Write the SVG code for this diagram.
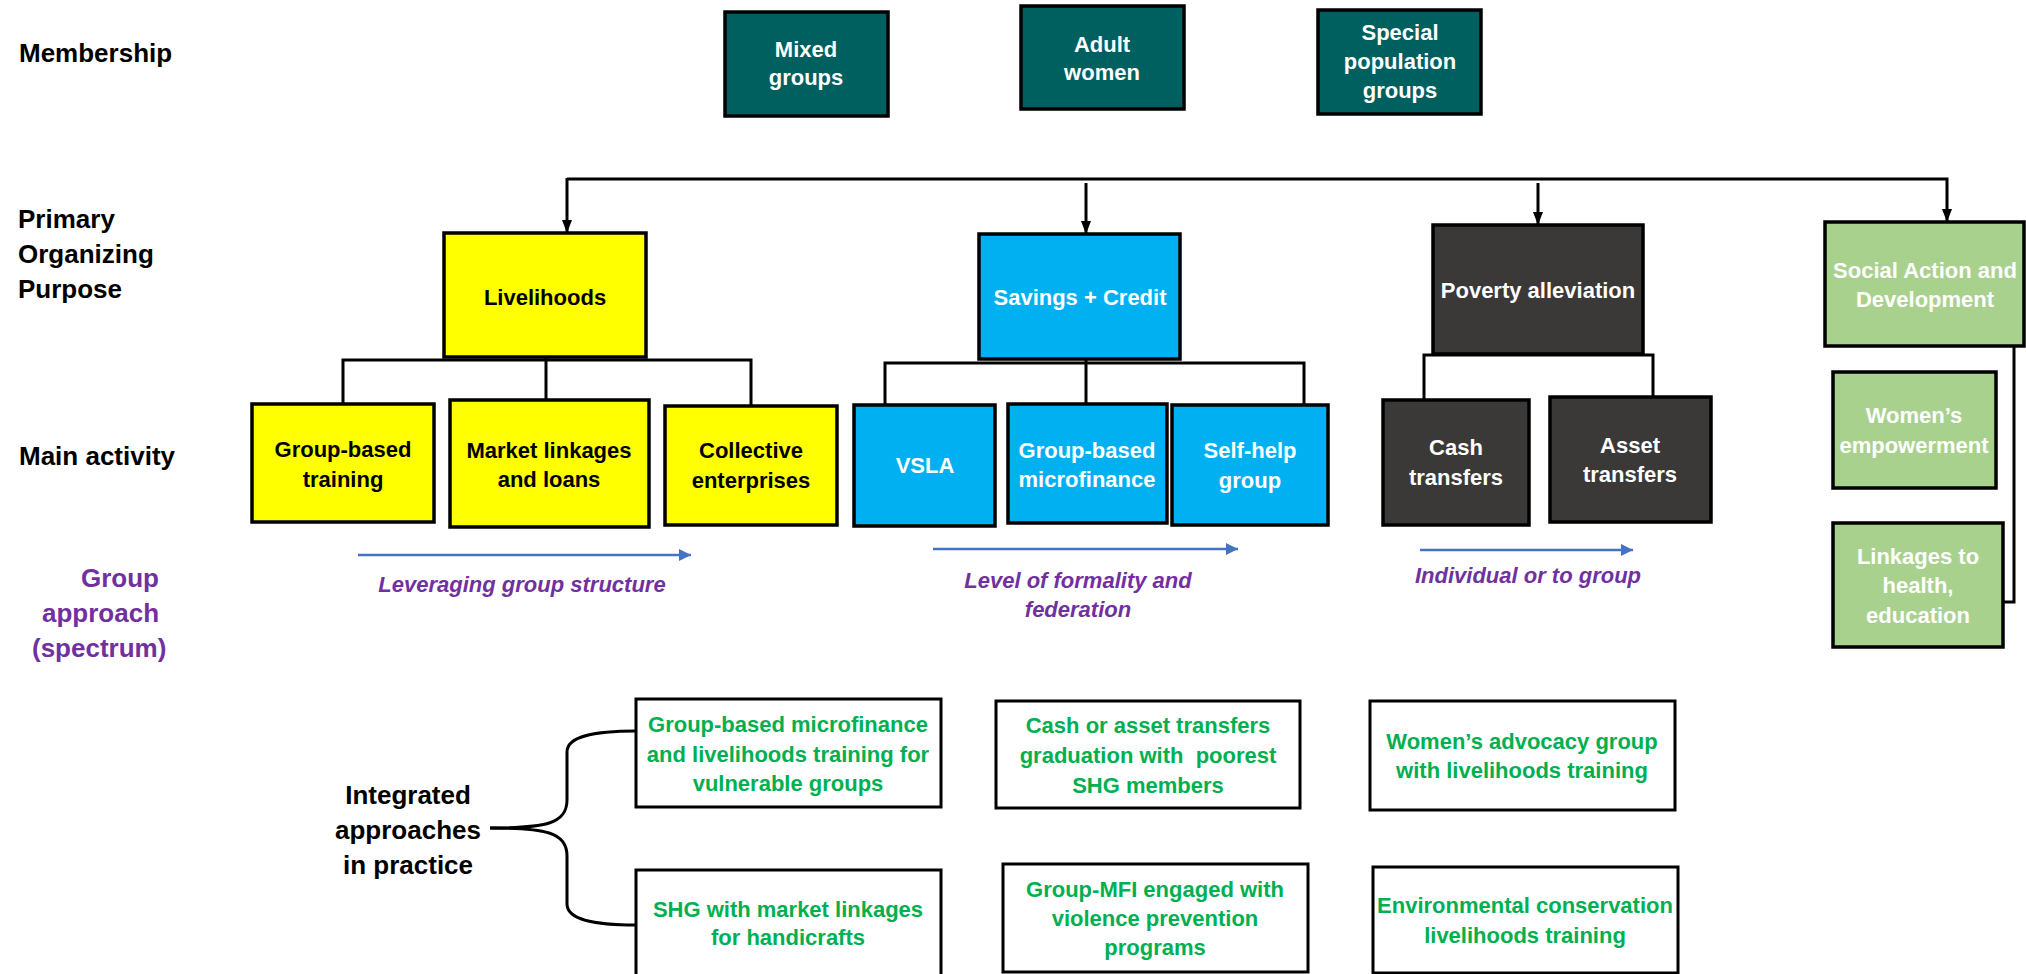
<svg xmlns="http://www.w3.org/2000/svg" width="2026" height="974" viewBox="0 0 2026 974">
<defs>
<style>
text{font-family:"Liberation Sans",Arial,sans-serif;font-weight:bold}
.lbl{font-size:26px;fill:#000}
.pur{font-size:26px;fill:#7030A0}
.it{font-size:22px;fill:#7030A0;font-style:italic;text-anchor:middle}
.bt{font-size:22px;text-anchor:middle}
.w{fill:#fff}
.k{fill:#000}
.g{fill:#00B050}
.teal{fill:#005F5F;stroke:#000;stroke-width:3.5}
.yel{fill:#FFFF00;stroke:#000;stroke-width:3.5}
.blu{fill:#00B0F0;stroke:#000;stroke-width:3.5}
.drk{fill:#3B3838;stroke:#000;stroke-width:3.5}
.grn{fill:#A9D18E;stroke:#000;stroke-width:3.5}
.wb{fill:#fff;stroke:#000;stroke-width:3}
.con{fill:none;stroke:#000;stroke-width:3}
.spec{fill:none;stroke:#4472C4;stroke-width:2.5}
</style>
<marker id="ah" viewBox="0 0 13 10" refX="13" refY="5" markerWidth="4.33" markerHeight="3.33" markerUnits="strokeWidth" orient="auto">
<path d="M0,0 L13,5 L0,10 z" fill="#000"/>
</marker>
<marker id="bh" viewBox="0 0 10 10" refX="10" refY="5" markerWidth="5" markerHeight="5" markerUnits="strokeWidth" orient="auto">
<path d="M0,0 L10,5 L0,10 z" fill="#4472C4"/>
</marker>
</defs>

<g id="row-labels">
<text class="lbl" x="19" y="62">Membership</text>
<text class="lbl" x="18" y="228">Primary</text>
<text class="lbl" x="18" y="263">Organizing</text>
<text class="lbl" x="18" y="298">Purpose</text>
<text class="lbl" x="19" y="465">Main activity</text>
<text class="pur" x="81" y="587">Group</text>
<text class="pur" x="42" y="622">approach</text>
<text class="pur" x="32" y="657">(spectrum)</text>
</g>

<g id="connectors">
<polyline class="con" points="567,179 1947,179 1947,222" marker-end="url(#ah)"/>
<line class="con" x1="567" y1="178" x2="567" y2="233" marker-end="url(#ah)"/>
<line class="con" x1="1086" y1="183" x2="1086" y2="234" marker-end="url(#ah)"/>
<line class="con" x1="1538" y1="183" x2="1538" y2="225" marker-end="url(#ah)"/>
<polyline class="con" points="546,357 546,400"/>
<polyline class="con" points="343,404 343,360 751,360 751,406"/>
<polyline class="con" points="1086,359 1086,404"/>
<polyline class="con" points="885,405 885,363 1304,363 1304,405"/>
<polyline class="con" points="1424,400 1424,355 1653,355 1653,397"/>
<polyline class="con" points="2014,343 2014,602 2003,602"/>
<line class="spec" x1="358" y1="555" x2="691" y2="555" marker-end="url(#bh)"/>
<line class="spec" x1="933" y1="549" x2="1238" y2="549" marker-end="url(#bh)"/>
<line class="spec" x1="1420" y1="550" x2="1633" y2="550" marker-end="url(#bh)"/>
<path class="con" d="M490,828 C545,828 567,824 567,800 L567,752 C567,736 595,731 636,731"/>
<path class="con" d="M490,828 C545,828 567,832 567,856 L567,904 C567,920 595,925 636,925"/>
</g>

<g id="mixed-groups"><rect class="teal" x="725" y="12" width="163" height="104"/>
<text class="bt w" x="806" y="57">Mixed</text><text class="bt w" x="806" y="85">groups</text></g>
<g id="adult-women"><rect class="teal" x="1021" y="6" width="163" height="103"/>
<text class="bt w" x="1102" y="52">Adult</text><text class="bt w" x="1102" y="80">women</text></g>
<g id="special-population"><rect class="teal" x="1318" y="10" width="163" height="104"/>
<text class="bt w" x="1400" y="40">Special</text><text class="bt w" x="1400" y="69">population</text><text class="bt w" x="1400" y="98">groups</text></g>

<g id="livelihoods"><rect class="yel" x="444" y="233" width="202" height="124"/>
<text class="bt k" x="545" y="305">Livelihoods</text></g>
<g id="savings-credit"><rect class="blu" x="979" y="234" width="201" height="125"/>
<text class="bt w" x="1080" y="305">Savings + Credit</text></g>
<g id="poverty-alleviation"><rect class="drk" x="1433" y="225" width="210" height="129"/>
<text class="bt w" x="1538" y="298">Poverty alleviation</text></g>
<g id="social-action"><rect class="grn" x="1825" y="222" width="199" height="124"/>
<text class="bt w" x="1925" y="278">Social Action and</text><text class="bt w" x="1925" y="307">Development</text></g>

<g id="group-based-training"><rect class="yel" x="252" y="404" width="182" height="118"/>
<text class="bt k" x="343" y="457">Group-based</text><text class="bt k" x="343" y="487">training</text></g>
<g id="market-linkages"><rect class="yel" x="450" y="400" width="199" height="127"/>
<text class="bt k" x="549" y="458">Market linkages</text><text class="bt k" x="549" y="487">and loans</text></g>
<g id="collective-enterprises"><rect class="yel" x="665" y="406" width="172" height="119"/>
<text class="bt k" x="751" y="458">Collective</text><text class="bt k" x="751" y="488">enterprises</text></g>
<g id="vsla"><rect class="blu" x="854" y="405" width="141" height="121"/>
<text class="bt w" x="925" y="473">VSLA</text></g>
<g id="group-based-microfinance"><rect class="blu" x="1008" y="404" width="159" height="119"/>
<text class="bt w" x="1087" y="458">Group-based</text><text class="bt w" x="1087" y="487">microfinance</text></g>
<g id="self-help-group"><rect class="blu" x="1172" y="405" width="156" height="120"/>
<text class="bt w" x="1250" y="458">Self-help</text><text class="bt w" x="1250" y="488">group</text></g>
<g id="cash-transfers"><rect class="drk" x="1383" y="400" width="146" height="125"/>
<text class="bt w" x="1456" y="455">Cash</text><text class="bt w" x="1456" y="485">transfers</text></g>
<g id="asset-transfers"><rect class="drk" x="1550" y="397" width="161" height="125"/>
<text class="bt w" x="1630" y="453">Asset</text><text class="bt w" x="1630" y="482">transfers</text></g>
<g id="womens-empowerment"><rect class="grn" x="1833" y="372" width="163" height="116"/>
<text class="bt w" x="1914" y="423">Women’s</text><text class="bt w" x="1914" y="453">empowerment</text></g>
<g id="linkages-health"><rect class="grn" x="1833" y="523" width="170" height="124"/>
<text class="bt w" x="1918" y="564">Linkages to</text><text class="bt w" x="1918" y="593">health,</text><text class="bt w" x="1918" y="623">education</text></g>

<g id="spectrum-labels">
<text class="it" x="522" y="592">Leveraging group structure</text>
<text class="it" x="1078" y="588">Level of formality and</text>
<text class="it" x="1078" y="617">federation</text>
<text class="it" x="1528" y="583">Individual or to group</text>
</g>

<g id="integrated-label">
<text class="lbl" x="408" y="804" text-anchor="middle">Integrated</text>
<text class="lbl" x="408" y="839" text-anchor="middle">approaches</text>
<text class="lbl" x="408" y="874" text-anchor="middle">in practice</text>
</g>

<g id="ex-mfi-livelihoods"><rect class="wb" x="636" y="699" width="305" height="108"/>
<text class="bt g" x="788" y="732">Group-based microfinance</text><text class="bt g" x="788" y="762">and livelihoods training for</text><text class="bt g" x="788" y="791">vulnerable groups</text></g>
<g id="ex-cash-graduation"><rect class="wb" x="996" y="701" width="304" height="107"/>
<text class="bt g" x="1148" y="733">Cash or asset transfers</text><text class="bt g" x="1148" y="763" xml:space="preserve">graduation with  poorest</text><text class="bt g" x="1148" y="793">SHG members</text></g>
<g id="ex-womens-advocacy"><rect class="wb" x="1370" y="701" width="305" height="109"/>
<text class="bt g" x="1522" y="749">Women’s advocacy group</text><text class="bt g" x="1522" y="778">with livelihoods training</text></g>
<g id="ex-shg-market"><rect class="wb" x="636" y="870" width="305" height="112"/>
<text class="bt g" x="788" y="917">SHG with market linkages</text><text class="bt g" x="788" y="945">for handicrafts</text></g>
<g id="ex-group-mfi"><rect class="wb" x="1003" y="864" width="305" height="108"/>
<text class="bt g" x="1155" y="897">Group-MFI engaged with</text><text class="bt g" x="1155" y="926">violence prevention</text><text class="bt g" x="1155" y="955">programs</text></g>
<g id="ex-environmental"><rect class="wb" x="1373" y="867" width="305" height="106"/>
<text class="bt g" x="1525" y="913">Environmental conservation</text><text class="bt g" x="1525" y="943">livelihoods training</text></g>
</svg>
